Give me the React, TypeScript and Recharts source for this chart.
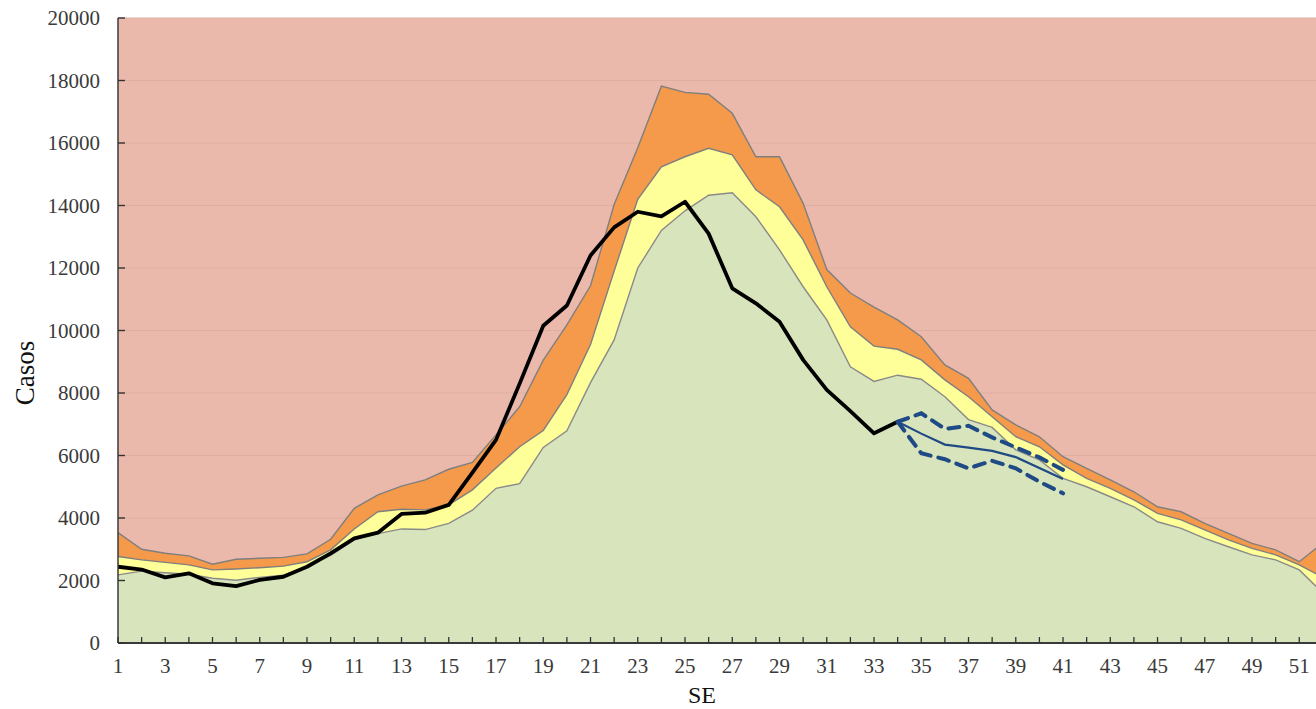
import React from 'react';
import { ComposedChart, Area, Line, XAxis, YAxis, CartesianGrid } from 'recharts';

const FONT = '"Liberation Serif", "Times New Roman", serif';

// Semana epidemiológica
const weeks = [1,2,3,4,5,6,7,8,9,10,11,12,13,14,15,16,17,18,19,20,21,22,23,24,25,26,27,28,29,30,31,32,33,34,35,36,37,38,39,40,41,42,43,44,45,46,47,48,49,50,51,52];
const labeledWeeks = [1,3,5,7,9,11,13,15,17,19,21,23,25,27,29,31,33,35,37,39,41,43,45,47,49,51];
const yTicks = [0,2000,4000,6000,8000,10000,12000,14000,16000,18000,20000];

// Zona de alerta (límite superior, naranja)
const alerta = [3530,3000,2870,2790,2520,2680,2710,2740,2850,3320,4310,4740,5020,5220,5560,5780,6660,7560,9050,10180,11430,14030,15850,17820,17620,17560,16950,15560,15560,14070,11950,11200,10750,10340,9800,8900,8470,7460,6980,6600,5960,5590,5220,4840,4360,4200,3830,3510,3190,2980,2600,3200];
// Zona de seguridad (amarillo)
const seguridad = [2770,2660,2580,2500,2340,2370,2410,2460,2600,2980,3650,4200,4280,4260,4420,4900,5600,6280,6800,7950,9550,11900,14200,15240,15560,15830,15620,14500,13960,12900,11400,10120,9500,9400,9060,8420,7880,7240,6600,6280,5700,5270,4950,4580,4150,3940,3620,3300,3030,2820,2500,2100];
// Zona de éxito (verde)
const exito = [2180,2300,2250,2200,2070,2010,2100,2170,2450,2800,3300,3500,3650,3630,3830,4250,4950,5100,6260,6790,8330,9700,12000,13200,13830,14330,14410,13640,12580,11400,10340,8840,8370,8570,8440,7880,7150,6900,6180,5860,5270,5000,4680,4360,3880,3670,3350,3080,2820,2660,2340,1600];
// Casos observados (SE 1-34)
const casos = [2440,2350,2100,2230,1910,1820,2020,2120,2440,2870,3350,3530,4130,4170,4420,5450,6500,8300,10150,10800,12400,13300,13800,13650,14120,13100,11350,10870,10280,9060,8100,7420,6710,7080];
// Pronóstico (SE 34-41)
const pronWeeks = [34,35,36,37,38,39,40,41];
const pronostico = [7080,6700,6350,6250,6150,5950,5600,5250];
const pronSup = [7080,7350,6850,6950,6580,6260,5940,5540];
const pronInf = [7080,6070,5880,5590,5830,5590,5160,4790];

const data = weeks.map((se, i) => {
  const pi = pronWeeks.indexOf(se);
  return {
    se,
    alerta: alerta[i],
    seguridad: seguridad[i],
    exito: exito[i],
    casos: i < casos.length ? casos[i] : null,
    pronostico: pi >= 0 ? pronostico[pi] : null,
    pronSup: pi >= 0 ? pronSup[pi] : null,
    pronInf: pi >= 0 ? pronInf[pi] : null,
  };
});

const YTick = (props: any) => {
  const { x, y, payload } = props;
  const ax = x + 18;
  return (
    <g>
      <line x1={ax} x2={ax + 7} y1={y} y2={y} stroke="#333" strokeWidth={1.4} />
      <text x={x} y={y} dy={7} textAnchor="end" fontSize={21} fill="#3a3a3a" fontFamily={FONT}>
        {payload.value}
      </text>
    </g>
  );
};

const XTick = (props: any) => {
  const { x, y, payload } = props;
  const show = labeledWeeks.includes(payload.value);
  return (
    <g>
      <line x1={x} x2={x} y1={y} y2={y - 6} stroke="#333" strokeWidth={1.3} />
      {show && (
        <text x={x} y={y + 30} textAnchor="middle" fontSize={21} fill="#3a3a3a" fontFamily={FONT}>
          {payload.value}
        </text>
      )}
    </g>
  );
};

export default function App() {
  return (
    <div style={{ position: 'fixed', left: 0, top: 0, width: 1316, height: 709, overflow: 'hidden', background: '#fff' }}>
      <ComposedChart
        width={1330}
        height={709}
        data={data}
        margin={{ top: 18, right: 7.1, left: 58, bottom: 26 }}
      >
        <CartesianGrid horizontal vertical={false} fill="#EBB9AC" stroke="#DDAFA2" strokeWidth={1} />
        <Area type="linear" dataKey="alerta" fill="#F5994B" fillOpacity={1} stroke="#7F7F7F" strokeWidth={1.4} isAnimationActive={false} dot={false} activeDot={false} />
        <Area type="linear" dataKey="seguridad" fill="#FFFF99" fillOpacity={1} stroke="#7F7F7F" strokeWidth={1.4} isAnimationActive={false} dot={false} activeDot={false} />
        <Area type="linear" dataKey="exito" fill="#D8E4BC" fillOpacity={1} stroke="#8A8A8A" strokeWidth={1.4} isAnimationActive={false} dot={false} activeDot={false} />
        <Line type="linear" dataKey="casos" stroke="#000" strokeWidth={3.8} strokeLinejoin="round" dot={false} activeDot={false} isAnimationActive={false} />
        <Line type="linear" dataKey="pronSup" stroke="#1F4A85" strokeWidth={4} strokeDasharray="11 8" strokeLinecap="round" dot={false} activeDot={false} isAnimationActive={false} />
        <Line type="linear" dataKey="pronInf" stroke="#1F4A85" strokeWidth={4} strokeDasharray="11 8" strokeLinecap="round" dot={false} activeDot={false} isAnimationActive={false} />
        <Line type="linear" dataKey="pronostico" stroke="#1F4A85" strokeWidth={2.2} dot={false} activeDot={false} isAnimationActive={false} />
        <XAxis
          dataKey="se"
          type="number"
          domain={[1, 52]}
          ticks={weeks}
          interval={0}
          height={40}
          tickSize={0}
          tickMargin={0}
          tickLine={false}
          axisLine={{ stroke: '#3a3a3a', strokeWidth: 1.8 }}
          tick={<XTick />}
          allowDataOverflow
        />
        <YAxis
          type="number"
          domain={[0, 20000]}
          ticks={yTicks}
          interval={0}
          width={60}
          tickSize={0}
          tickMargin={18}
          tickLine={false}
          axisLine={{ stroke: '#3a3a3a', strokeWidth: 1.5 }}
          tick={<YTick />}
        />
      </ComposedChart>
      <svg width={1316} height={709} style={{ position: 'absolute', left: 0, top: 0, pointerEvents: 'none' }}>
        <text x={25} y={373} transform="rotate(-90 25 373)" textAnchor="middle" dominantBaseline="central" fontSize={27} fill="#111" fontFamily={FONT}>
          Casos
        </text>
        <text x={702} y={703} textAnchor="middle" fontSize={24} fill="#111" fontFamily={FONT}>
          SE
        </text>
      </svg>
    </div>
  );
}
